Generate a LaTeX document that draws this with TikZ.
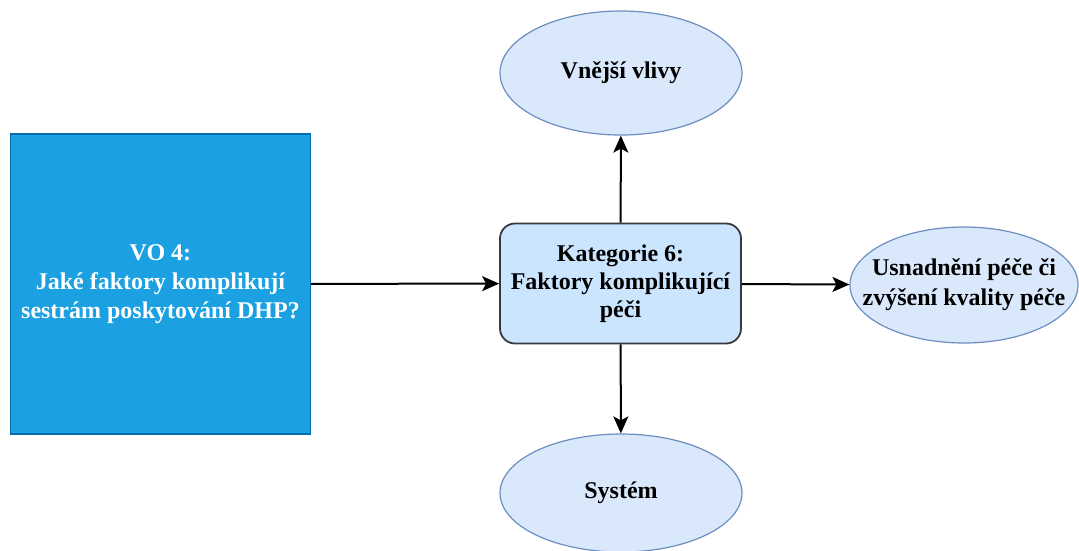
\documentclass[tikz,border=0pt]{standalone}
\usepackage{fontspec}
\setmainfont{Liberation Serif}
\usepackage{tikz}
\usetikzlibrary{shapes.geometric,arrows.meta}
\definecolor{voblue}{HTML}{1BA1E2}
\definecolor{voline}{HTML}{006EAF}
\definecolor{katfill}{HTML}{CCE5FF}
\definecolor{katline}{HTML}{36393D}
\definecolor{elfill}{HTML}{DAE8FC}
\definecolor{elline}{HTML}{6C8EBF}
\tikzset{
  txt/.style={font=\fontsize{24}{28}\selectfont\bfseries,align=center,inner sep=0pt},
  vobox/.style={txt,draw=voline,fill=voblue,text=white,line width=1.2pt,minimum width=300pt,minimum height=300pt},
  katbox/.style={txt,draw=katline,fill=katfill,line width=1.8pt,rounded corners=15pt,minimum width=241pt,minimum height=120pt},
  vliv/.style={txt,ellipse,draw=elline,fill=elfill,line width=1.2pt},
  sipka/.style={line width=2pt,-{Stealth[length=17pt,width=15pt,inset=4pt]}}
}
\begin{document}
\begin{tikzpicture}[x=1pt,y=-1pt]
  \useasboundingbox (0,0) rectangle (1079,550);
  \node [vobox] (vo) at (160.5,284) {VO 4:\\[1pt]Jaké faktory komplikují\\[1pt]sestrám poskytování DHP?};
  \node [katbox] (kat) at (620.5,283.5) {Kategorie 6:\\Faktory komplikující\\péči};
  \node [vliv,minimum width=242pt,minimum height=124pt] (vnejsi) at (621,73) {Vnější vlivy};
  \node [vliv,minimum width=242pt,minimum height=118pt] (system) at (621,493) {Systém};
  % text of this one is wider than the ellipse would allow
  \node [vliv,minimum width=228pt,minimum height=116pt] (usnadneni) at (964,285) {};
  \node [txt] (usnadneniText) at (usnadneni) {Usnadnění péče či\\[2pt]zvýšení kvality péče};
  \draw [sipka] (vo) -- (kat);
  \draw [sipka] (kat) -- (vnejsi);
  \draw [sipka] (kat) -- (system);
  \draw [sipka] (kat) -- (usnadneni);
\end{tikzpicture}
\end{document}
